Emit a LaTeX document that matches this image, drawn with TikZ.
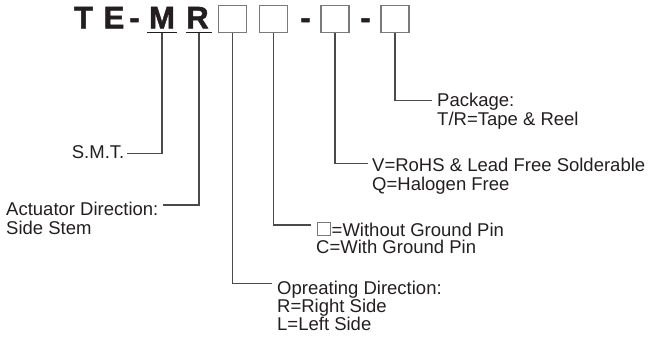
\documentclass[tikz,border=0pt]{standalone}
\usepackage{fontspec}
\setmainfont{Liberation Sans}
\newfontfamily\heavyfont[FakeBold=1.6]{Liberation Sans Bold}
\definecolor{ink}{HTML}{231F20}
\definecolor{linegray}{HTML}{4A4A4A}
\definecolor{boxgray}{HTML}{7A7A7A}
\begin{document}
\begin{tikzpicture}[x=1pt,y=-1pt,
  txt/.style={inner sep=0pt, anchor=base west, text=ink, font=\fontsize{18.5}{20}\selectfont},
  txtr/.style={txt, anchor=base east},
  big/.style={inner sep=0pt, anchor=base, text=ink, font=\fontsize{31}{31}\selectfont\heavyfont},
  slot/.style={draw=boxgray, line width=1.4pt, minimum width=28pt, minimum height=27pt, inner sep=0pt},
  smallslot/.style={draw=boxgray, line width=1pt, minimum width=13pt, minimum height=13pt, inner sep=0pt, anchor=south west},
  conn/.style={draw=linegray, line width=1.1pt},
  uline/.style={draw=ink, line width=1.2pt},
]
\useasboundingbox (0,0) rectangle (655,338);

% top code
\node[big] (T) at (83.5,28.3) {T};
\node[big] (E) at (114,28.3) {E};
\node[big] (h0) at (134.5,28.3) {-};
\node[big] (M) at (162,28.3) {M};
\node[big] (R) at (197.5,28.3) {R};
\node[slot] (b1) at (232.5,19) {};
\node[slot] (b2) at (273.5,19) {};
\node[big] (h1) at (305.5,28.3) {-};
\node[slot] (b3) at (335,19) {};
\node[big] (h2) at (365.5,28.3) {-};
\node[slot] (b4) at (395,19) {};

% underlines
\draw[uline] ([shift={(-1.5pt,-4.2pt)}]M.base west) -- ([shift={(1.5pt,-4.2pt)}]M.base east);
\draw[uline] ([shift={(0pt,-4.2pt)}]R.base west) -- ([shift={(3pt,-4.2pt)}]R.base east);

% labels
\node[txtr] (smt) at (124.5,158.3) {S.M.T.};
\node[txt] (ac1) at (6,215) {Actuator Direction:};
\node[txt] (ac2) at (6,234.5) {Side Stem};
\node[txt] (op1) at (277,294) {Opreating Direction:};
\node[txt] (op2) at (277,312) {R=Right Side};
\node[txt] (op3) at (277,330) {L=Left Side};
\node[smallslot] (sq) at (316.5,235.5) {};
\node[txt] (gp1) at (331.5,236) {=Without Ground Pin};
\node[txt] (gp2) at (316,253.5) {C=With Ground Pin};
\node[txt] (v1) at (372,171.7) {V=RoHS \& Lead Free Solderable};
\node[txt] (v2) at (372,190) {Q=Halogen Free};
\node[txt] (pk1) at (437,106.3) {Package:};
\node[txt] (pk2) at (437,125) {T/R=Tape \& Reel};

% connectors
\draw[conn] ([yshift=-4.2pt]M.base) |- ([shift={(2pt,5pt)}]smt.base east);
\draw[conn] ([shift={(1.5pt,-4.2pt)}]R.base) |- ([shift={(4pt,10pt)}]ac1.base east);
\draw[conn] (b1.south) |- ([shift={(-5pt,10.3pt)}]op1.base west);
\draw[conn] (b2.south) |- ([shift={(-6pt,10.5pt)}]sq.south west);
\draw[conn] (b3.south) |- ([shift={(-4pt,8.4pt)}]v1.base west);
\draw[conn] (b4.south) |- ([shift={(-5pt,5.6pt)}]pk1.base west);
\end{tikzpicture}
\end{document}
